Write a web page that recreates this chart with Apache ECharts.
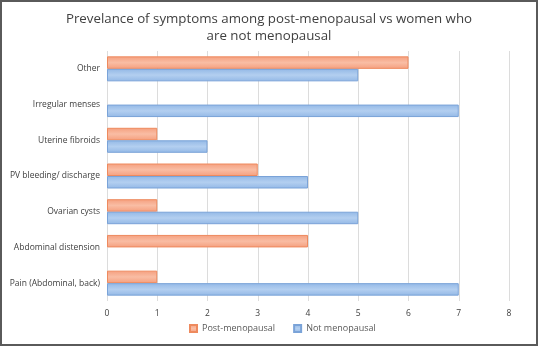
<!DOCTYPE html>
<html>
<head>
<meta charset="utf-8">
<script src="https://cdn.jsdelivr.net/npm/echarts@6/dist/echarts.min.js"></script>
<style>
  html, body { margin: 0; padding: 0; background: #fff; }
  #chart { width: 538px; height: 346px; }
</style>
</head>
<body>
<div id="chart"></div>
<script>
// categories from bottom to top (category axis starts at the bottom)
const categories = [
  "Pain (Abdominal, back)",
  "Abdominal distension",
  "Ovarian cysts",
  "PV bleeding/ discharge",
  "Uterine fibroids",
  "Irregular menses",
  "Other",
];
const postMenopausal = [1, 4, 1, 3, 1, 0, 6];
const notMenopausal = [7, 0, 5, 4, 2, 7, 5];
const xTicks = [0, 1, 2, 3, 4, 5, 6, 7, 8];

const chart = echarts.init(document.getElementById("chart"));

const barFill = (edge, mid) =>
  new echarts.graphic.LinearGradient(0, 0, 0, 1, [
    { offset: 0, color: edge },
    { offset: 0.5, color: mid },
    { offset: 1, color: edge },
  ]);

// zero counts draw no bar at all
const noZero = (arr) => arr.map((v) => (v === 0 ? "-" : v));

chart.setOption({
  animation: false,
  textStyle: { fontFamily: "Open Sans, sans-serif" },
  title: {
    text: "Prevelance of symptoms among post-menopausal vs women who\nare not menopausal",
    left: "center",
    top: 6,
    textStyle: {
      fontSize: 13.3,
      fontWeight: "normal",
      color: "#404040",
      lineHeight: 17,
    },
  },
  graphic: [
    {
      type: "rect",
      shape: { x: 1, y: 1, width: 536, height: 344 },
      style: { fill: "none", stroke: "#5a5a5a", lineWidth: 2 },
      silent: true,
    },
  ],
  legend: {
    data: ["Post-menopausal", "Not menopausal"],
    bottom: 8,
    left: 184,
    itemWidth: 7,
    itemHeight: 7,
    itemGap: 18,
    icon: "rect",
    textStyle: { fontSize: 9, color: "#595959" },
  },
  grid: { left: 107, right: 29, top: 51, bottom: 45 },
  xAxis: {
    type: "value",
    min: xTicks[0],
    max: xTicks[xTicks.length - 1],
    interval: 1,
    axisLine: { show: false },
    axisTick: { show: false },
    axisLabel: { fontSize: 8.5, color: "#404040", margin: 8 },
    splitLine: { lineStyle: { color: "#dcdcdc", width: 1 } },
  },
  yAxis: {
    type: "category",
    data: categories,
    axisLine: { show: false },
    axisTick: { show: false },
    axisLabel: { fontSize: 8.5, color: "#404040", margin: 7 },
  },
  series: [
    {
      name: "Post-menopausal",
      type: "bar",
      data: noZero(postMenopausal),
      barGap: "0%",
      barCategoryGap: "30%",
      itemStyle: {
        color: barFill("#f59f7e", "#f9bda4"),
        borderColor: "#ee8a5e",
        borderWidth: 1,
      },
    },
    {
      name: "Not menopausal",
      type: "bar",
      data: noZero(notMenopausal),
      barGap: "0%",
      barCategoryGap: "30%",
      itemStyle: {
        color: barFill("#93b8e6", "#b3cff0"),
        borderColor: "#7aa3d8",
        borderWidth: 1,
      },
    },
  ],
});
</script>
</body>
</html>
